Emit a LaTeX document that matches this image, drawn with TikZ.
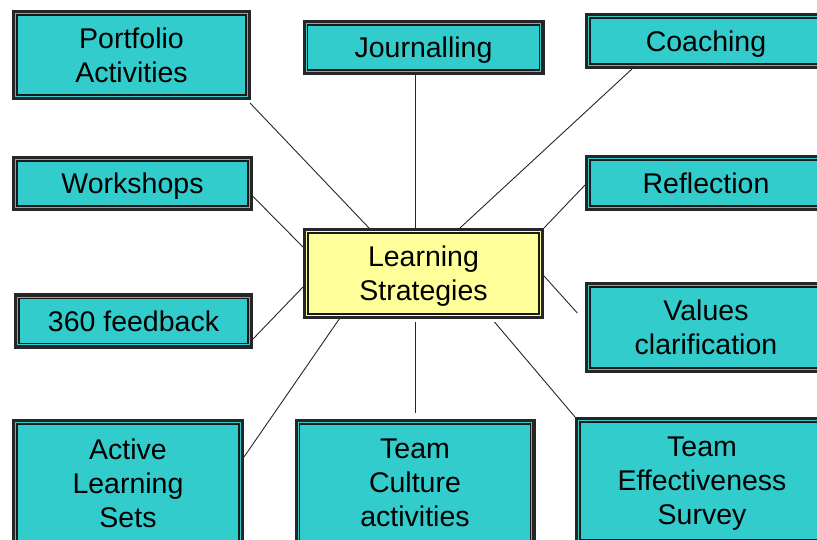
\documentclass[tikz,border=0pt]{standalone}
\usepackage{fontspec}
\setmainfont{Liberation Sans}
\usetikzlibrary{calc,backgrounds}
\definecolor{boxteal}{RGB}{51,204,204}
\definecolor{boxyellow}{RGB}{255,255,153}
\tikzset{
  box/.style={draw=black!85, line width=3.2pt, fill=boxteal, inner sep=0pt,
    align=center, text=black, text depth=0pt, font=\fontsize{28.5}{34}\selectfont},
  hub/.style={box, fill=boxyellow},
  rim/.style={draw=black!90, line width=1.3pt},
  link/.style={draw=black!85, line width=0.9pt},
}
% thin inner frame of a double-bordered box
\newcommand\innerrim[1]{\draw[rim] ($(#1.north west)+(4.9,4.9)$) rectangle ($(#1.south east)-(4.9,4.9)$);}
\begin{document}
\begin{tikzpicture}[x=1pt, y=-1pt]
  \useasboundingbox (0,0) rectangle (817,540);
  \clip (0,0) rectangle (817,540);

  % centre box
  \node[hub, minimum width=237.8, minimum height=87.8] (ls) at (423.5,273.5) {Learning\\Strategies};

  % surrounding boxes
  \node[box, minimum width=235.8, minimum height=86.8] (pf) at (131.5,55) {Portfolio\\Activities};
  \node[box, minimum width=238.8, minimum height=51.8] (jn) at (423.5,47.5) {Journalling};
  \node[box, minimum width=238.8, minimum height=52.8] (co) at (706,41) {Coaching};
  \node[box, minimum width=237.8, minimum height=51.8] (ws) at (132.5,183.5) {Workshops};
  \node[box, minimum width=238.8, minimum height=52.8] (rf) at (706,183) {Reflection};
  \node[box, minimum width=235.8, minimum height=51.8] (fb) at (133.5,321) {360 feedback};
  \node[box, minimum width=238.8, minimum height=87.8] (vc) at (706,327.5) {Values\\clarification};
  \node[box, minimum width=228.8, minimum height=124.8] (al) at (128,483) {Active\\Learning\\Sets};
  \node[box, minimum width=237.8, minimum height=124.8] (tc) at (415,483) {Team\\Culture\\activities};
  \node[box, minimum width=250.8, minimum height=124.8] (te) at (702,481) {Team\\Effectiveness\\Survey};

  \innerrim{ls} \innerrim{pf} \innerrim{jn} \innerrim{co}
  \innerrim{ws} \innerrim{rf} \innerrim{fb} \innerrim{vc}
  \innerrim{al} \innerrim{tc} \innerrim{te}

  % connectors, drawn beneath the boxes
  \begin{scope}[on background layer]
    \draw[link] ($(pf.south east)+(-1,3)$) -- ($(ls.north west)+(66,0)$);
    \draw[link] ($(jn.south)+(-8.5,0)$) -- ($(ls.north)+(-8.5,0)$);
    \draw[link] ($(co.south west)+(47,0)$) -- ($(ls.north)+(36.5,0)$);
    \draw[link] ($(ws.east)+(0,13)$) -- ($(ls.north west)+(0,19)$);
    \draw[link] ($(rf.west)+(0,2)$) -- (ls.north east);
    \draw[link] ($(fb.east)+(0,18)$) -- ($(ls.west)+(0,13.5)$);
    \draw[link] ($(ls.east)+(0,2.5)$) -- ($(vc.west)+(-7.7,-14.5)$);
    \draw[link] ($(al.east)+(0,-26)$) -- ($(ls.south west)+(39,-4)$);
    \draw[link] ($(ls.south)+(-8.5,3)$) -- ($(tc.north)+(0,-6)$);
    \draw[link] ($(ls.south west)+(191.5,3)$) -- (te.north west);
  \end{scope}
\end{tikzpicture}
\end{document}
